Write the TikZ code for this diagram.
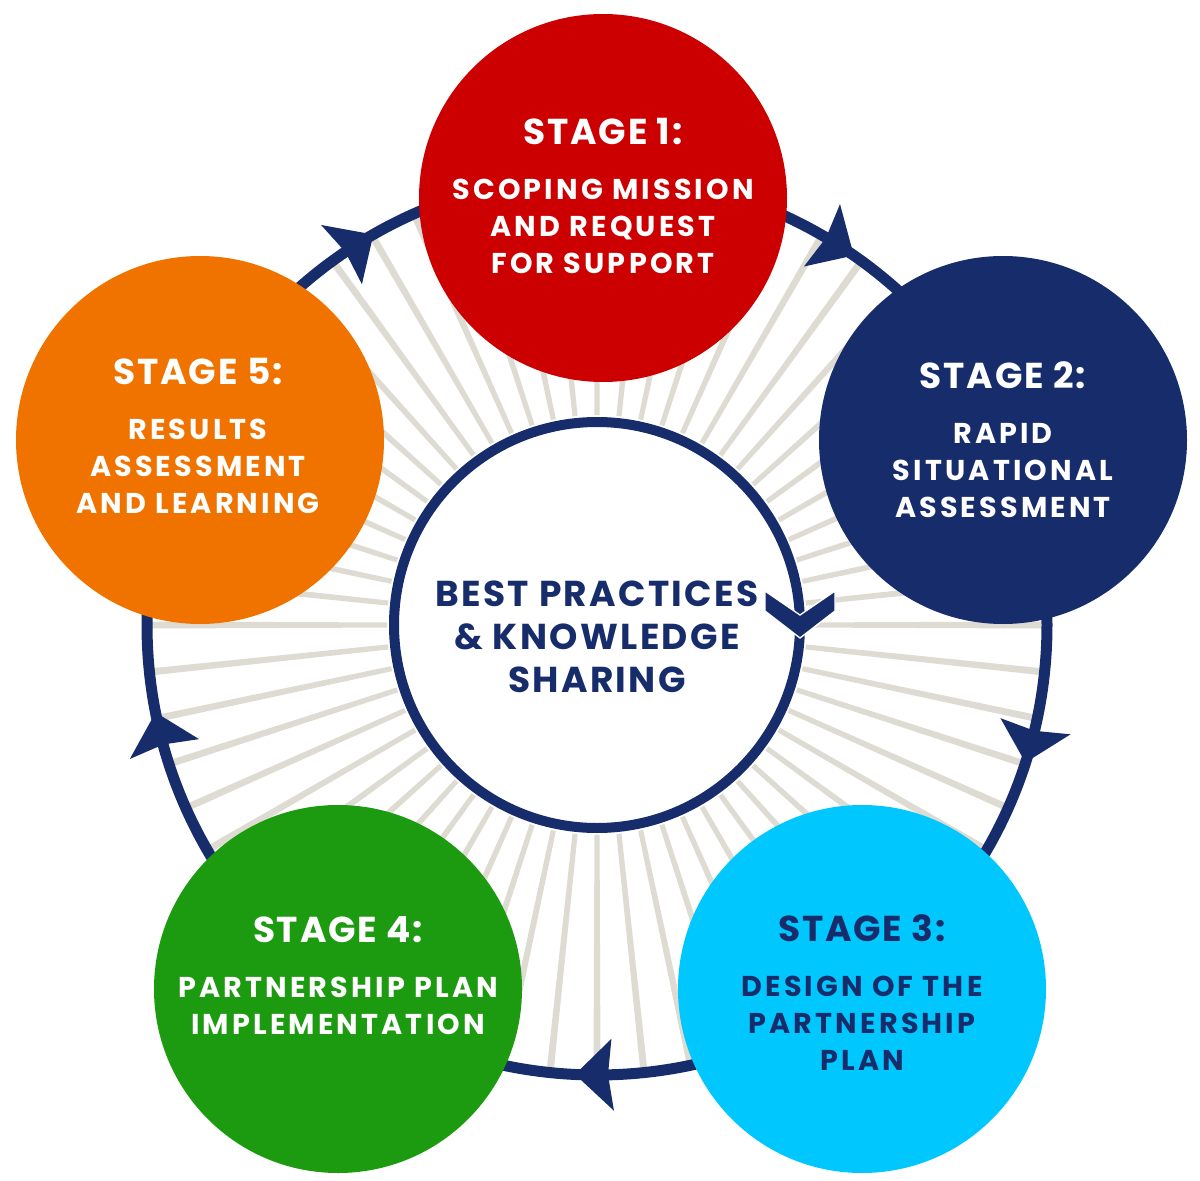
\documentclass[tikz,border=0pt]{standalone}
\usepackage{fontspec}
\setmainfont{Poppins}
\definecolor{stagered}{RGB}{204,0,0}
\definecolor{stagenavy}{RGB}{23,44,107}
\definecolor{stagecyan}{RGB}{0,200,255}
\definecolor{stagegreen}{RGB}{29,155,16}
\definecolor{stageorange}{RGB}{240,115,0}
\definecolor{spokegray}{RGB}{222,219,211}
\newcommand\stagetitle{\fontsize{27}{27}\selectfont\addfontfeature{LetterSpace=5}}
\newcommand\stagebody{\fontsize{21.5}{27.75}\selectfont\bfseries\addfontfeature{LetterSpace=11}}
\newcommand\hubfont{\fontsize{27}{32.25}\selectfont\bfseries\addfontfeature{LetterSpace=6.5}}
\tikzset{every picture/.style={line width=0.75pt}}
\tikzset{
  stagedisc/.style={circle, inner sep=0pt, minimum size=276pt},
  stagetext/.style={inner sep=0pt, align=center, text=white, font=\stagebody},
  ringline/.style={draw=stagenavy, line width=8.25pt},
}

\begin{document}
\begin{tikzpicture}[x=0.75pt,y=0.75pt,yscale=-1,xscale=1]
\useasboundingbox (0,0) rectangle (1200,1181);
\coordinate (hub) at (597,625);

%Spokes
\foreach \a in {0,6,...,354} {
  \fill[spokegray, shift={(hub)}] (\a+90-0.7:210) -- (\a+90+0.7:210) -- (\a+90+0.45:447) -- (\a+90-0.45:447) -- cycle;
}

%Shape: Circle [outer ring]
\draw[ringline] (hub) circle[radius=450];
%Ring arrowheads
\foreach \a in {-60,13,88,164,-124.6} {
  \fill[stagenavy, shift={(hub)}] (\a:414) -- (\a+4.8:450) -- (\a:486) -- (\a+0.6:450) -- cycle;
}

%Shape: Circle [inner]
\node[circle, inner sep=0pt, minimum size=304.5pt, fill=white, draw=stagenavy, line width=7.5pt] (core) at (hub) {};
%Shape: Chevron
\fill[stagenavy, draw=white, line width=1pt] (765,591) -- (800,615) -- (835,591) -- (835,611) -- (800,638) -- (765,611) -- cycle;

%Stage discs
\node[stagedisc, fill=stagered] (stage1) at (603,198) {};
\node[stagedisc, fill=stagenavy] (stage2) at (1003,440) {};
\node[stagedisc, fill=stagecyan] (stage3) at (862,989) {};
\node[stagedisc, fill=stagegreen] (stage4) at (338,989) {};
\node[stagedisc, fill=stageorange] (stage5) at (200,440) {};

% Text Node
\node[stagetext] (stage1text) at (603,196) {{\stagetitle STAGE 1:}\\[13.5pt]SCOPING MISSION\\AND REQUEST\\FOR SUPPORT};
% Text Node
\node[stagetext] (stage2text) at (1003,440) {{\stagetitle STAGE 2:}\\[13.5pt]RAPID\\SITUATIONAL\\ASSESSMENT};
% Text Node
\node[stagetext, text=stagenavy] (stage3text) at (862,993) {{\stagetitle STAGE 3:}\\[13.5pt]DESIGN OF THE\\PARTNERSHIP\\PLAN};
% Text Node
\node[stagetext] (stage4text) at (338,976) {{\stagetitle STAGE 4:}\\[13.5pt]PARTNERSHIP PLAN\\IMPLEMENTATION};
% Text Node
\node[stagetext] (stage5text) at (198,436) {{\stagetitle STAGE 5:}\\[13.5pt]RESULTS\\ASSESSMENT\\AND LEARNING};
% Text Node
\node[inner sep=0pt, align=center, text=stagenavy, font=\hubfont] (coretext) at (597,637) {BEST PRACTICES\\\& KNOWLEDGE\\SHARING};

\end{tikzpicture}
\end{document}
